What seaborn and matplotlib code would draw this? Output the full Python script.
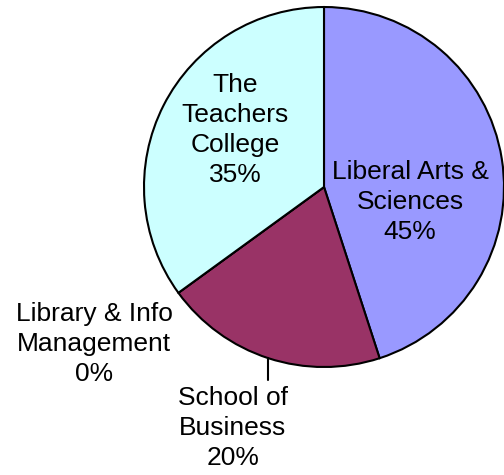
import numpy as np
import matplotlib
matplotlib.use('Agg')
import matplotlib.pyplot as plt
import seaborn as sns

# datos del grafico
colleges = ['Liberal Arts &\nSciences', 'School of\nBusiness', 'Library & Info\nManagement', 'The\nTeachers\nCollege']
shares = [45, 20, 0, 35]
colores = ['#9999FF', '#993366', '#FFFFCC', '#CCFFFF']

# posicion de cada etiqueta (en radios del pastel)
label_pos = [(0.478, -0.083), (-0.506, -1.339), (-1.278, -0.872), (-0.494, 0.317)]

sns.set_theme(style='white')
plt.rcParams['font.family'] = ['Liberation Sans', 'DejaVu Sans']

fig = plt.figure(figsize=(5.04, 4.75), dpi=100)
ax = fig.add_axes([0, 0, 1, 1])

wedges, _ = ax.pie(shares, colors=colores, startangle=90, counterclock=False,
                   wedgeprops=dict(edgecolor='black', linewidth=1.5))

for w, name, val, (lx, ly) in zip(wedges, colleges, shares, label_pos):
    ax.text(lx, ly, f'{name}\n{val}%', ha='center', va='center',
            fontsize=19, linespacing=1.33, color='black')

# linea guia para School of Business
w = wedges[1]
mid = np.deg2rad((w.theta1 + w.theta2) / 2)
x0, y0 = np.cos(mid), np.sin(mid)
ax.plot([x0, x0], [y0, -1.072], color='black', linewidth=1.5)

ax.set_xlim(-1.8, 1.0)
ax.set_ylim(-1.6, 1.039)
ax.set_aspect('auto')
ax.axis('off')

plt.savefig('out.png', dpi=100)
plt.close()
